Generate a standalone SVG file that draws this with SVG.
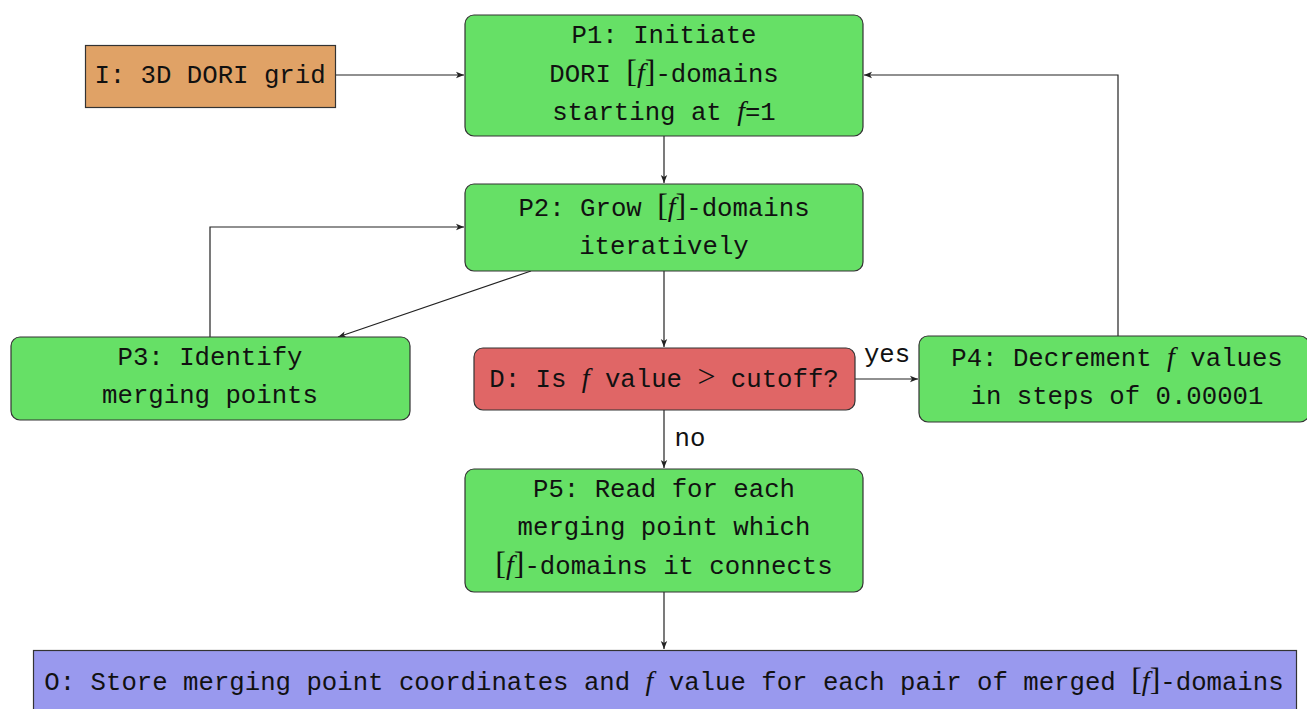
<svg xmlns="http://www.w3.org/2000/svg" width="1307" height="709" viewBox="0 0 1307 709">
<defs>
<marker id="ah" viewBox="0 0 10 10" refX="10" refY="5" markerWidth="8" markerHeight="8" markerUnits="userSpaceOnUse" orient="auto">
<path d="M0,1 L10,5 L0,9 L2.5,5 Z" fill="#222"/>
</marker>
<style>
.t{font-family:"Liberation Mono","DejaVu Sans Mono",monospace;font-size:25.7px;fill:#111;text-anchor:middle}
.m{font-family:"Liberation Serif","DejaVu Serif",serif;font-style:italic;font-size:28px}
.b{font-family:"Liberation Serif","DejaVu Serif",serif;font-size:32px}
.g{fill:#66E066;stroke:#333;stroke-width:1.2}
.c{fill:none;stroke:#222;stroke-width:1.2;marker-end:url(#ah)}
</style>
</defs>
<rect width="1307" height="709" fill="#fff"/>
<g id="connectors">
<path class="c" d="M335,75 H464"/>
<path class="c" d="M664,136 V183"/>
<path class="c" d="M664,271 V347"/>
<path class="c" d="M531,271 L338,337"/>
<path class="c" d="M210,337 V227 H464"/>
<path class="c" d="M855,379 H918"/>
<path class="c" d="M1118,336 V75 H864"/>
<path class="c" d="M664,410 V468"/>
<path class="c" d="M664,592 V649"/>
<text class="t" x="887" y="362">yes</text>
<text class="t" x="690" y="446">no</text>
</g>
<g id="I">
<rect x="85.5" y="45.5" width="250" height="62" fill="#E0A266" stroke="#333" stroke-width="1.2"/>
<text class="t" x="210" y="83">I: 3D DORI grid</text>
</g>
<g id="P1">
<rect class="g" x="465" y="15" width="398" height="121" rx="9"/>
<text class="t" x="664" y="43">P1: Initiate</text>
<text class="t" x="664" y="82">DORI <tspan class="b">[</tspan><tspan class="m">f</tspan><tspan class="b">]</tspan>-domains</text>
<text class="t" x="664" y="120">starting at <tspan class="m">f</tspan>=1</text>
</g>
<g id="P2">
<rect class="g" x="465" y="184" width="398" height="87" rx="9"/>
<text class="t" x="664" y="216">P2: Grow <tspan class="b">[</tspan><tspan class="m">f</tspan><tspan class="b">]</tspan>-domains</text>
<text class="t" x="664" y="254">iteratively</text>
</g>
<g id="P3">
<rect class="g" x="11" y="337" width="399" height="83" rx="9"/>
<text class="t" x="210" y="365">P3: Identify</text>
<text class="t" x="210" y="403">merging points</text>
</g>
<g id="D">
<rect x="474" y="348" width="381" height="62" rx="9" fill="#E06666" stroke="#333" stroke-width="1.2"/>
<text class="t" x="664" y="387">D: Is <tspan class="m">f</tspan> value <tspan class="b" font-size="28">&gt;</tspan> cutoff?</text>
</g>
<g id="P4">
<rect class="g" x="919" y="336" width="390" height="86" rx="9"/>
<text class="t" x="1117" y="366">P4: Decrement <tspan class="m">f</tspan> values</text>
<text class="t" x="1117" y="404">in steps of 0.00001</text>
</g>
<g id="P5">
<rect class="g" x="465" y="469" width="398" height="123" rx="9"/>
<text class="t" x="664" y="497">P5: Read for each</text>
<text class="t" x="664" y="535">merging point which</text>
<text class="t" x="664" y="574"><tspan class="b">[</tspan><tspan class="m">f</tspan><tspan class="b">]</tspan>-domains it connects</text>
</g>
<g id="O">
<rect x="33.5" y="650.5" width="1263" height="70" fill="#9999EE" stroke="#333" stroke-width="1.2"/>
<text class="t" x="664" y="690">O: Store merging point coordinates and <tspan class="m">f</tspan> value for each pair of merged <tspan class="b">[</tspan><tspan class="m">f</tspan><tspan class="b">]</tspan>-domains</text>
</g>
</svg>
